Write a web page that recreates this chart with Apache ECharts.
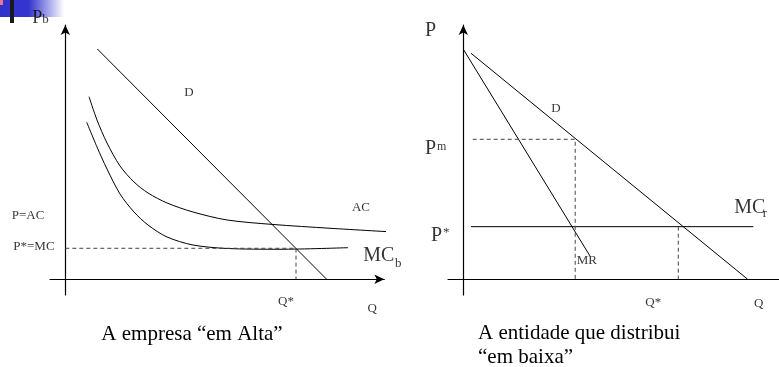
<!DOCTYPE html>
<html>
<head>
<meta charset="utf-8">
<script src="https://cdn.jsdelivr.net/npm/echarts@6/dist/echarts.min.js"></script>
<style>
    html, body { margin: 0; padding: 0; background: #fff; }
    #chart { width: 779px; height: 367px; }
</style>
</head>
<body>
<div id="chart"></div>
<script>
// left panel: the firm "em Alta"
const demandB = [[10.45, 73.27], [85.34, 0]];
const acB = [[7.74, 58.10], [10.35, 50.68], [13.61, 43.37], [17.86, 36.05], [22.43, 30.96], [27.00, 27.46],
    [33.20, 24.28], [41.69, 21.41], [52.79, 18.87], [67.81, 17.44], [86.42, 16.23], [108.62, 14.95]];
const mcB = [[6.99, 49.95], [10.35, 42.09], [13.61, 35.09], [17.86, 27.14], [22.43, 21.41], [27.00, 17.28],
    [33.20, 13.46], [41.69, 10.91], [52.79, 9.80], [70.09, 9.55], [92.29, 10.05]];
const qStarB = 75.32, pStarB = 9.86;

// right panel: the distributor "em baixa"
const demandR = [[2.51, 71.91], [92.85, 0]];
const mrR = [[0, 73.18], [41.36, 7.41]];
const mcR = [[2.51, 16.74], [94.68, 16.74]];
const pMonR = 44.54, qMonR = 36.53, qStarR = 70.19, pStarR = 16.74;

// text labels (data coords of each panel)
const labelsB = [
    [-10.77, 83.14, "P", 18, "left"], [-7.51, 82.5, "b", 13, "left"],
    [40.39, 59.27, "D", 13, "center"], [96.53, 22.97, "AC", 13, "center"],
    [-17.50, 20.24, "P=AC", 13, "left"], [-16.98, 10.28, "P*=MC", 13, "left"],
    [97.29, 7.41, "MC", 20, "left"], [107.64, 5.0, "b", 13, "left"],
    [72.05, -7.22, "Q*", 13, "center"], [100.23, -9.23, "Q", 13, "center"]
];
const labelsR = [
    [-12.50, 79.16, "P", 20, "left"],
    [-12.50, 41.62, "P", 20, "left"], [-8.59, 42.19, "m", 12, "left"],
    [-10.55, 13.78, "P", 20, "left"], [-6.63, 14.73, "*", 13, "left"],
    [30.26, 54.41, "D", 13, "center"],
    [88.48, 22.78, "MC", 20, "left"], [97.8, 20.8, "r", 13, "left"],
    [37.02, 5.82, "MR", 13, "left"],
    [62.03, -7.45, "Q*", 13, "center"], [96.47, -7.86, "Q", 13, "center"]
];

const font = "Liberation Serif";
const chart = echarts.init(document.getElementById("chart"));

function axisX(grid, max, arrow) {
    return {
        type: "value", gridIndex: grid, min: -5, max: max,
        axisLine: { onZero: true, symbol: ["none", arrow ? "arrow" : "none"], symbolSize: [7, 10],
            lineStyle: { color: "#000", width: 1.2 } },
        axisTick: { show: false }, axisLabel: { show: false }, splitLine: { show: false }
    };
}
function axisY(grid) {
    return {
        type: "value", gridIndex: grid, min: -5, max: 80.9,
        axisLine: { onZero: true, symbol: ["none", "arrow"], symbolSize: [7, 10],
            lineStyle: { color: "#000", width: 1.2 } },
        axisTick: { show: false }, axisLabel: { show: false }, splitLine: { show: false }
    };
}
function curve(idx, data, smooth) {
    return {
        type: "line", xAxisIndex: idx, yAxisIndex: idx, data: data,
        smooth: smooth || false,
        symbol: "none", clip: false, silent: true,
        lineStyle: { color: "#000", width: 1 }
    };
}
function dashed(idx, data) {
    return {
        type: "line", xAxisIndex: idx, yAxisIndex: idx, data: data,
        symbol: "none", clip: false, silent: true,
        lineStyle: { color: "#444", width: 1, type: [4, 3] }
    };
}
function texts(idx, list) {
    return {
        type: "scatter", xAxisIndex: idx, yAxisIndex: idx, symbolSize: 0.1, clip: false, silent: true,
        itemStyle: { color: "rgba(0,0,0,0)" },
        data: list.map(l => ({
            value: [l[0], l[1]],
            label: { show: true, position: "inside", formatter: l[2], fontSize: l[3], align: l[4],
                verticalAlign: "middle", color: "#000", fontFamily: font }
        }))
    };
}

chart.setOption({
    animation: false,
    grid: [
        { left: 50, top: 25, width: 334.3, height: 270 },
        { left: 448, top: 25, width: 331, height: 270 }
    ],
    xAxis: [axisX(0, 104.15, true), axisX(1, 103.07, false)],
    yAxis: [axisY(0), axisY(1)],
    graphic: [
        { type: "rect", shape: { x: 0, y: 0, width: 64, height: 17 }, silent: true,
            style: { fill: new echarts.graphic.LinearGradient(0, 0, 1, 0, [
                { offset: 0, color: "#3030cc" }, { offset: 0.45, color: "#3535cf" }, { offset: 1, color: "#ffffff" }]) } },
        { type: "rect", shape: { x: 0, y: 0, width: 3, height: 5 }, silent: true, style: { fill: "#e87a8c" } },
        { type: "rect", shape: { x: 10, y: 0, width: 4, height: 23 }, silent: true, style: { fill: "#1a1a1a" } },
        { type: "text", x: 192, y: 334, silent: true,
            style: { text: "A empresa “em Alta”", font: "21px " + font, fill: "#000", align: "center", verticalAlign: "middle" } },
        { type: "text", x: 478, y: 333, silent: true,
            style: { text: "A entidade que distribui", font: "21px " + font, fill: "#000", align: "left", verticalAlign: "middle" } },
        { type: "text", x: 478, y: 357, silent: true,
            style: { text: "“em baixa”", font: "21px " + font, fill: "#000", align: "left", verticalAlign: "middle" } }
    ],
    series: [
        curve(0, demandB),
        curve(0, acB, 0.3),
        curve(0, mcB, 0.3),
        dashed(0, [[0, pStarB], [qStarB, pStarB], [qStarB, 0]]),
        texts(0, labelsB),
        curve(1, demandR),
        curve(1, mrR),
        curve(1, mcR),
        dashed(1, [[3.07, pMonR], [qMonR, pMonR], [qMonR, 0]]),
        dashed(1, [[qStarR, pStarR], [qStarR, 0]]),
        texts(1, labelsR)
    ]
});
</script>
</body>
</html>
